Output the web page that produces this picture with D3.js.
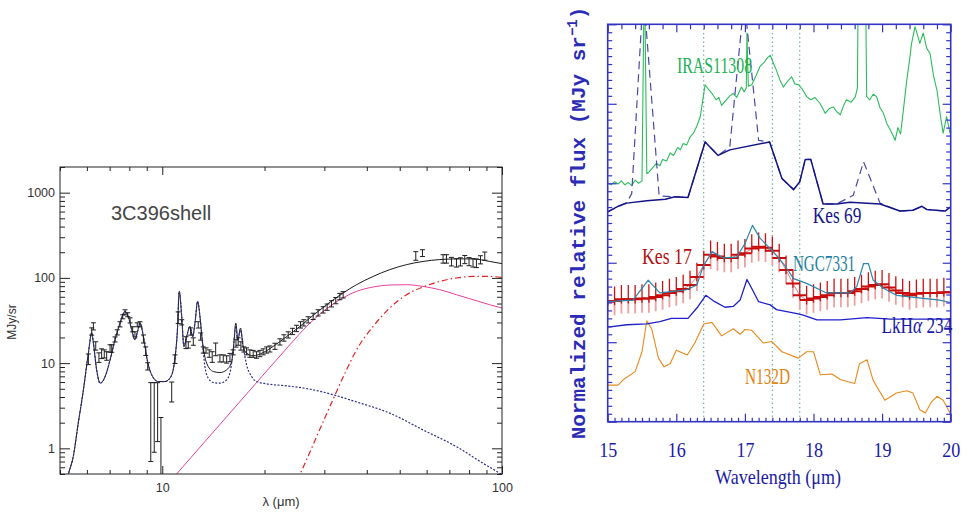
<!DOCTYPE html>
<html>
<head>
<meta charset="utf-8">
<script src="https://cdn.jsdelivr.net/npm/d3@7"></script>
<style>
body { margin: 0; background: #fff; }
</style>
</head>
<body>
<svg id="chart" width="968" height="513"></svg>
<script>
// ---------- left panel: 3C396shell SED (wavelength um, MJy/sr) ----------
var sedWave = [6.06, 6.20, 6.27, 6.37, 6.51, 6.63, 6.75, 6.86, 7.02, 7.10, 7.26, 7.37, 7.51, 7.65, 7.77, 7.91,
	8.04, 8.18, 8.31, 8.44, 8.60, 8.80, 8.94, 9.06, 9.25, 9.47, 9.69, 9.91, 10.66, 10.90, 11.14, 11.41,
	11.74, 11.93, 12.12, 12.34, 12.76, 12.97, 13.20, 13.45, 13.75, 14.03, 14.36, 14.78, 15.12, 15.47,
	15.82, 16.17, 16.48, 16.73, 17.04, 17.39, 17.71, 18.11, 18.52, 18.95, 19.38, 19.82, 20.28, 20.74,
	21.46, 22.20, 22.81, 23.48, 24.18, 24.85, 25.53, 26.11, 26.88, 27.81, 28.76, 29.75, 30.57, 31.50,
	32.42, 33.31, 34.07, 55.75, 58.33, 67.07, 68.63, 71.00, 73.44, 75.45, 77.69, 79.98, 82.17, 84.09,
	86.43, 88.98];
var sedFlux = [11.2, 23.6, 27.1, 16.0, 11.7, 13.0, 12.9, 12.2, 14.9, 14.9, 19.0, 23.0, 28.6, 35.0, 39.5, 37.0,
	31.8, 25.0, 21.8, 28.2, 28.6, 19.3, 13.9, 9.2, 3.3, 3.4, 3.55, 1.2, 4.75, 11.2, 34.5, 30.2,
	17.6, 16.4, 23.6, 18.0, 28.2, 20.6, 14.3, 14.1, 13.0, 11.9, 14.7, 11.4, 11.4, 11.1,
	11.7, 13.4, 17.1, 18.0, 16.0, 14.5, 13.8, 13.0, 12.9, 12.5, 13.0, 13.6, 14.3, 14.7,
	15.8, 17.8, 19.8, 21.5, 23.6, 25.6, 28.2, 29.8, 32.3, 35.5, 39.0, 42.3, 45.5, 49.8,
	54.3, 60.6, 63.5, 182, 196, 168, 168, 156, 151, 155, 165, 156, 151, 149,
	164, 181];
var sedErr = [1.6, 2.3, 2.6, 1.8, 1.5, 1.7, 1.4, 1.4, 1.5, 1.5, 1.3, 1.6, 2.0, 1.9, 2.7, 2.0,
	2.2, 1.7, 1.5, 1.5, 2.0, 2.1, 1.6, 0.9, 2.6, 2.5, 2.35, 1.1, 1.25, 1.3, 5.4, 2.1,
	2.8, 1.4, 2.3, 1.8, 2.4, 2.0, 1.2, 1.0, 1.3, 1.7, 2.5, 1.1, 1.1, 1.1,
	1.3, 0.9, 1.7, 1.8, 1.8, 1.0, 1.3, 1.3, 1.2, 1.1, 1.1, 1.1, 1.2, 1.2,
	1.3, 1.5, 1.7, 1.8, 2.0, 2.2, 2.4, 2.5, 2.7, 3.0, 3.3, 3.6, 3.9, 4.2,
	4.6, 5.2, 5.4, 21, 18, 19, 19, 18, 17, 17, 18, 17, 17, 17,
	18, 20];

// model components [wavelength, flux]
var modelTotal = [[5.2, 0.35], [5.29, 0.49], [5.47, 0.80], [5.66, 1.99], [5.86, 4.86], [6.06, 13.1], [6.20, 22.7],
	[6.27, 17.2], [6.41, 8.34], [6.56, 5.82], [6.79, 6.96], [7.02, 10.9], [7.26, 18.8], [7.51, 29.5],
	[7.77, 40.4], [7.94, 35.3], [8.13, 24.6], [8.31, 18.8], [8.44, 22.7], [8.60, 29.5], [8.80, 20.5],
	[9.03, 10.9], [9.31, 7.29], [9.73, 6.08], [10.18, 6.08], [10.61, 6.96], [10.90, 11.5], [11.07, 22.7],
	[11.22, 69.4], [11.41, 35.3], [11.58, 15.7], [11.80, 20.5], [12.06, 26.9], [12.29, 20.5], [12.48, 29.5],
	[12.71, 52.9], [12.91, 35.3], [13.11, 18.8], [13.51, 10.0], [14.13, 7.97], [14.78, 7.75], [15.47, 8.34],
	[16.0, 10.4], [16.25, 17.2], [16.46, 29.5], [16.70, 18.8], [17.0, 25.8], [17.30, 15.7], [17.71, 13.1],
	[18.52, 12.2], [19.82, 13.3], [21.21, 15.7], [23.22, 20.5], [25.41, 26.9], [27.19, 33.8], [34.07, 66.5],
	[37.31, 83.2], [41.75, 104], [46.73, 125], [52.35, 143], [58.56, 156], [65.57, 164], [73.44, 167],
	[82.17, 167], [91.99, 156], [100, 147]];
var modelPah = [[5.2, 0.35], [5.29, 0.49], [5.47, 0.80], [5.66, 1.99], [5.86, 4.86], [6.06, 13.1], [6.20, 22.7],
	[6.27, 17.2], [6.41, 8.34], [6.56, 5.82], [6.79, 6.96], [7.02, 10.9], [7.26, 18.8], [7.51, 29.5],
	[7.77, 40.4], [7.94, 35.3], [8.13, 24.6], [8.31, 18.8], [8.44, 22.7], [8.60, 29.5], [8.80, 20.5],
	[9.03, 10.9], [9.31, 7.29], [9.73, 6.08], [10.18, 6.08], [10.61, 6.96], [10.90, 11.5], [11.07, 22.7],
	[11.22, 69.4], [11.41, 35.3], [11.58, 15.7], [11.80, 20.5], [12.06, 26.9], [12.29, 20.5], [12.48, 29.5],
	[12.71, 52.9], [12.91, 35.3], [13.11, 18.8], [13.35, 9.12], [13.66, 6.66], [14.13, 5.92], [14.78, 5.82],
	[15.47, 6.37], [15.89, 8.34], [16.17, 14.3], [16.45, 27.0], [16.66, 18.5], [16.98, 24.6], [17.30, 15.7],
	[17.71, 9.55], [18.32, 6.96], [18.95, 6.08], [20.28, 5.71], [23.22, 5.41], [27.19, 4.95], [32.2, 4.2],
	[37.31, 3.5], [46.73, 2.59], [58.56, 1.645], [73.44, 1.047], [87.95, 0.668], [98.45, 0.51], [100, 0.49]];
var modelWarm = [[10.97, 0.49], [18.0, 4.68], [23.74, 16.4], [26.59, 26.9], [29.75, 40.4], [33.31, 55.4],
	[37.31, 69.4], [41.75, 78.2], [46.73, 82.5], [52.35, 83.2], [58.56, 79.4], [65.57, 72.7], [73.44, 63.5],
	[82.17, 55.4], [91.99, 48.4], [100, 44.3]];
var modelCold = [[24.07, 0.3], [25.41, 0.49], [27.19, 0.90], [29.75, 2.05], [32.2, 4.17], [34.86, 8.34],
	[37.31, 14.3], [41.75, 26.9], [46.73, 44.3], [52.35, 63.5], [58.56, 78.2], [65.57, 91], [73.44, 99.7],
	[82.17, 104], [91.99, 104], [100, 101]];

var leftXMajor = [10, 100];
var leftYMajor = [1, 10, 100, 1000];

// ---------- right panel: normalized spectra 15-20 um ----------
var irasSpec = [[15.0, 3.00], [15.05, 2.98], [15.1, 3.02], [15.15, 2.99], [15.2, 3.03], [15.25, 2.98], [15.3, 3.01],
	[15.35, 2.97], [15.4, 3.04], [15.45, 3.00], [15.5, 3.03], [15.535, 5.8], [15.57, 3.12], [15.6, 3.14],
	[15.66, 3.2], [15.71, 3.25], [15.76, 3.22], [15.8, 3.3], [15.86, 3.28], [15.91, 3.38], [15.96, 3.35],
	[16.02, 3.45], [16.06, 3.42], [16.1, 3.50], [16.15, 3.48], [16.2, 3.58], [16.25, 3.63], [16.3, 3.72],
	[16.35, 3.84], [16.42, 4.24], [16.47, 4.18], [16.52, 4.13], [16.58, 4.05], [16.62, 4.08], [16.66, 3.98],
	[16.72, 4.04], [16.78, 4.10], [16.83, 4.13], [16.88, 4.08], [16.95, 4.21], [16.99, 4.15], [17.02, 4.2],
	[17.03, 4.89], [17.05, 4.22], [17.10, 4.24], [17.16, 4.35], [17.22, 4.47], [17.28, 4.52], [17.33, 4.58],
	[17.37, 4.61], [17.42, 4.5], [17.46, 4.42], [17.51, 4.3], [17.56, 4.21], [17.62, 4.28], [17.68, 4.34],
	[17.73, 4.25], [17.78, 4.24], [17.84, 4.18], [17.90, 4.09], [17.96, 4.05], [18.02, 4.08], [18.09, 4.01],
	[18.13, 3.95], [18.17, 3.88], [18.23, 3.94], [18.29, 3.96], [18.34, 3.9], [18.39, 3.86], [18.44, 3.98],
	[18.48, 4.05], [18.55, 4.02], [18.61, 4.09], [18.64, 4.2], [18.655, 5.8], [18.755, 5.8], [18.775, 4.09],
	[18.82, 4.05], [18.87, 4.12], [18.92, 4.09], [18.97, 3.95], [19.02, 3.88], [19.07, 3.75], [19.12, 3.67],
	[19.16, 3.6], [19.19, 3.54], [19.23, 3.7], [19.27, 3.62], [19.31, 3.92], [19.36, 4.30], [19.40, 4.55],
	[19.43, 4.76], [19.48, 4.97], [19.52, 4.85], [19.55, 4.76], [19.60, 4.89], [19.65, 4.7], [19.70, 4.63],
	[19.75, 4.35], [19.80, 4.17], [19.85, 3.85], [19.89, 3.63], [19.94, 3.84], [19.99, 3.63]];
var kes69Spec = [[15.00, 2.64], [15.15, 2.71], [15.28, 2.75], [15.57, 2.78], [15.84, 2.80], [15.98, 2.83],
	[16.17, 2.82], [16.42, 3.52], [16.61, 3.35], [16.78, 3.42], [17.36, 3.52], [17.54, 3.06], [17.71, 2.92],
	[17.80, 3.02], [17.88, 3.30], [17.96, 3.30], [18.14, 2.74], [18.34, 2.74], [18.53, 2.76], [18.97, 2.74],
	[19.26, 2.65], [19.45, 2.66], [19.58, 2.71], [19.65, 2.67], [19.92, 2.65], [19.99, 2.70]];
var kes69Lines = [[15.00, 2.64], [15.28, 2.76], [15.35, 2.87], [15.52, 5.41], [15.75, 2.84], [15.98, 2.83],
	[16.17, 2.82], [16.42, 3.52], [16.61, 3.35], [16.78, 3.46], [16.99, 5.31], [17.20, 3.54], [17.36, 3.52],
	[17.54, 3.06], [17.71, 2.92], [17.80, 3.02], [17.88, 3.30], [17.96, 3.30], [18.14, 2.74], [18.34, 2.74],
	[18.58, 2.85], [18.73, 3.27], [18.97, 2.75], [19.26, 2.65], [19.45, 2.66], [19.58, 2.71], [19.65, 2.67],
	[19.92, 2.65], [19.99, 2.70]];
var kes17Wave = [15.0, 15.1, 15.2, 15.3, 15.4, 15.5, 15.6, 15.7, 15.8, 15.9,
	16.0, 16.1, 16.2, 16.3, 16.4, 16.5, 16.6, 16.7, 16.8, 16.9,
	17.0, 17.1, 17.2, 17.3, 17.4, 17.5, 17.6, 17.7, 17.8, 17.9,
	18.0, 18.1, 18.2, 18.3, 18.4, 18.5, 18.6, 18.7, 18.8, 18.9,
	19.0, 19.1, 19.2, 19.3, 19.4, 19.5, 19.6, 19.7, 19.8, 19.9, 20.0];
var kes17Flux = [1.51, 1.52, 1.54, 1.54, 1.54, 1.55, 1.55, 1.57, 1.59, 1.62,
	1.64, 1.67, 1.72, 1.82, 1.97, 2.10, 2.08, 2.06, 2.06, 2.10,
	2.12, 2.18, 2.20, 2.19, 2.15, 2.06, 1.91, 1.74, 1.59, 1.53,
	1.55, 1.57, 1.59, 1.62, 1.62, 1.62, 1.64, 1.67, 1.70, 1.72,
	1.73, 1.69, 1.65, 1.62, 1.59, 1.61, 1.62, 1.62, 1.62, 1.63, 1.63];
var kes17Err = [0.18, 0.18, 0.18, 0.18, 0.18, 0.18, 0.18, 0.18, 0.18, 0.18,
	0.18, 0.18, 0.18, 0.18, 0.18, 0.18, 0.18, 0.18, 0.18, 0.18,
	0.18, 0.18, 0.18, 0.18, 0.18, 0.18, 0.18, 0.18, 0.18, 0.18,
	0.18, 0.18, 0.18, 0.18, 0.18, 0.18, 0.18, 0.18, 0.18, 0.18,
	0.18, 0.18, 0.18, 0.18, 0.18, 0.18, 0.18, 0.18, 0.18, 0.18, 0.18];
var ngcSpec = [[15.00, 1.51], [15.37, 1.53], [15.59, 1.78], [15.76, 1.62], [15.96, 1.64], [16.15, 1.66],
	[16.30, 1.72], [16.39, 1.95], [16.52, 2.14], [16.69, 2.06], [16.88, 2.07], [17.00, 2.24], [17.11, 2.47],
	[17.22, 2.31], [17.41, 2.14], [17.56, 1.99], [17.71, 1.80], [17.90, 1.74], [18.19, 1.62], [18.53, 1.62],
	[18.63, 1.70], [18.73, 1.99], [18.80, 1.99], [18.87, 1.78], [19.02, 1.68], [19.21, 1.59], [19.50, 1.56],
	[19.84, 1.53], [19.99, 1.50]];
var lkhaSpec = [[15.00, 1.19], [15.28, 1.22], [15.57, 1.23], [15.76, 1.26], [15.93, 1.30], [16.17, 1.30],
	[16.30, 1.43], [16.43, 1.59], [16.56, 1.51], [16.71, 1.44], [16.83, 1.45], [16.93, 1.53], [17.03, 1.79],
	[17.11, 1.66], [17.20, 1.51], [17.37, 1.47], [17.46, 1.41], [17.76, 1.36], [17.85, 1.34], [18.05, 1.28],
	[18.39, 1.28], [18.78, 1.31], [19.12, 1.29], [19.50, 1.29], [19.99, 1.29]];
var n132dSpec = [[15.00, 0.46], [15.15, 0.46], [15.23, 0.53], [15.40, 0.63], [15.50, 0.88], [15.57, 1.27],
	[15.64, 1.17], [15.74, 0.80], [15.82, 0.69], [15.91, 0.73], [16.00, 0.90], [16.16, 0.84], [16.27, 0.99],
	[16.40, 1.23], [16.52, 1.25], [16.66, 1.08], [16.83, 1.17], [16.93, 1.10], [17.00, 1.16], [17.10, 1.15],
	[17.27, 0.99], [17.39, 1.01], [17.54, 0.88], [17.78, 0.80], [17.90, 0.88], [18.00, 0.88], [18.10, 0.59],
	[18.27, 0.60], [18.39, 0.53], [18.60, 0.48], [18.67, 0.73], [18.78, 0.78], [18.87, 0.52], [19.04, 0.27],
	[19.21, 0.36], [19.36, 0.39], [19.45, 0.36], [19.55, 0.15], [19.63, 0.11], [19.72, 0.25], [19.80, 0.32],
	[19.89, 0.27], [19.99, 0.11]];
var lineMarks = [16.4, 17.4, 17.8];
var rightXMajor = [15, 16, 17, 18, 19, 20];

var svg = d3.select("#chart");

function label(g, x, y, txt, size, color, sx, anchor) {
	return g.append("text")
		.attr("transform", "translate(" + x + "," + y + ") scale(" + sx + ",1)")
		.attr("font-size", size)
		.attr("fill", color)
		.attr("text-anchor", anchor || "start")
		.text(txt);
}

//==================== left panel ====================
var L = {x0: 60, x1: 502, y0: 167, y1: 474};
var lx = d3.scaleLog().domain([5, 100]).range([L.x0, L.x1]);
var ly = d3.scaleLog().domain([0.5, 2000]).range([L.y1, L.y0]);
var left = svg.append("g").attr("font-family", "'Liberation Sans', Arial, sans-serif");

svg.append("clipPath").attr("id", "clipL").append("rect")
	.attr("x", L.x0).attr("y", L.y0).attr("width", L.x1 - L.x0).attr("height", L.y1 - L.y0);

var lineL = d3.line().x(d => lx(d[0])).y(d => ly(d[1])).curve(d3.curveMonotoneX);
var plotL = left.append("g").attr("clip-path", "url(#clipL)");

plotL.append("path").datum(modelWarm).attr("d", lineL)
	.attr("fill", "none").attr("stroke", "#e8409c").attr("stroke-width", 1);
plotL.append("path").datum(modelCold).attr("d", lineL)
	.attr("fill", "none").attr("stroke", "#e02424").attr("stroke-width", 1.2)
	.attr("stroke-dasharray", "6,3,1.5,3");
plotL.append("path").datum(modelTotal).attr("d", lineL)
	.attr("fill", "none").attr("stroke", "#1a1a1a").attr("stroke-width", 1);
plotL.append("path").datum(modelPah).attr("d", lineL)
	.attr("fill", "none").attr("stroke", "#2c2c8c").attr("stroke-width", 1.2)
	.attr("stroke-dasharray", "2,1.6");

// error bars
var sed = sedWave.map((w, i) => ({w: w, f: sedFlux[i], e: sedErr[i]}));
var bars = plotL.selectAll("g.ebar").data(sed).enter().append("g").attr("class", "ebar")
	.attr("stroke", "#1e1e1e").attr("stroke-width", 1);
bars.append("line")
	.attr("x1", d => lx(d.w)).attr("x2", d => lx(d.w))
	.attr("y1", d => ly(Math.max(d.f - d.e, 0.3))).attr("y2", d => ly(d.f + d.e));
bars.append("line")
	.attr("x1", d => lx(d.w) - 2.5).attr("x2", d => lx(d.w) + 2.5)
	.attr("y1", d => ly(d.f + d.e)).attr("y2", d => ly(d.f + d.e));
bars.filter(d => d.f - d.e > 0.3).append("line")
	.attr("x1", d => lx(d.w) - 2.5).attr("x2", d => lx(d.w) + 2.5)
	.attr("y1", d => ly(d.f - d.e)).attr("y2", d => ly(d.f - d.e));

// axes
var lMinorX = lx.ticks().filter(t => leftXMajor.indexOf(t) < 0);
var lMinorY = ly.ticks().filter(t => leftYMajor.indexOf(t) < 0);
function leftAxis(fn, scale, vals, size, fmt, tr) {
	var g = left.append("g").attr("transform", tr)
		.call(fn(scale).tickValues(vals).tickSize(size).tickPadding(fmt ? 9 : 0).tickFormat(fmt || ""));
	g.select(".domain").remove();
	g.selectAll("line").attr("stroke", "#222");
	g.selectAll("text").attr("fill", "#333").attr("font-size", 12.5).attr("font-family", "'Liberation Sans', Arial, sans-serif");
	return g;
}
leftAxis(d3.axisBottom, lx, leftXMajor, -8, d => d, "translate(0," + L.y1 + ")");
leftAxis(d3.axisBottom, lx, lMinorX, -4, null, "translate(0," + L.y1 + ")");
leftAxis(d3.axisTop, lx, leftXMajor, -8, null, "translate(0," + L.y0 + ")");
leftAxis(d3.axisTop, lx, lMinorX, -4, null, "translate(0," + L.y0 + ")");
var ya = leftAxis(d3.axisLeft, ly, leftYMajor, -10, d => d, "translate(" + L.x0 + ",0)");
ya.selectAll("text").attr("x", -5);
leftAxis(d3.axisLeft, ly, lMinorY, -5, null, "translate(" + L.x0 + ",0)");
leftAxis(d3.axisRight, ly, leftYMajor, -10, null, "translate(" + L.x1 + ",0)");
leftAxis(d3.axisRight, ly, lMinorY, -5, null, "translate(" + L.x1 + ",0)");

left.append("rect").attr("x", L.x0).attr("y", L.y0)
	.attr("width", L.x1 - L.x0).attr("height", L.y1 - L.y0)
	.attr("fill", "none").attr("stroke", "#222").attr("stroke-width", 1);

left.append("text").attr("x", 111).attr("y", 220).attr("font-size", 20)
	.attr("fill", "#444").text("3C396shell");
left.append("text").attr("transform", "translate(16,322) rotate(-90)")
	.attr("text-anchor", "middle").attr("font-size", 12).attr("fill", "#333").text("MJy/sr");
left.append("text").attr("x", 281).attr("y", 506).attr("text-anchor", "middle")
	.attr("font-size", 13).attr("fill", "#333").text("λ (μm)");

//==================== right panel ====================
var R = {x0: 607.7, x1: 950.7, y0: 24.3, y1: 421.7};
var rx = d3.scaleLinear().domain([15, 20]).range([R.x0, R.x1]);
var ry = d3.scaleLinear().domain([0, 5]).range([R.y1, R.y0]);
var axisBlue = "#3434c4", textBlue = "#1a1aa6";
var right = svg.append("g").attr("font-family", "'Liberation Serif', 'Times New Roman', serif");

svg.append("clipPath").attr("id", "clipR").append("rect")
	.attr("x", R.x0).attr("y", R.y0).attr("width", R.x1 - R.x0).attr("height", R.y1 - R.y0);
var plotR = right.append("g").attr("clip-path", "url(#clipR)");
var lineR = d3.line().x(d => rx(d[0])).y(d => ry(d[1]));

plotR.selectAll("line.mark").data(lineMarks).enter().append("line")
	.attr("x1", d => rx(d)).attr("x2", d => rx(d))
	.attr("y1", R.y0).attr("y2", R.y1)
	.attr("stroke", "#3a9c86").attr("stroke-width", 1).attr("stroke-dasharray", "1.3,3");

function spec(data, color, w, dash) {
	plotR.append("path").datum(data).attr("d", lineR)
		.attr("fill", "none").attr("stroke", color).attr("stroke-width", w)
		.attr("stroke-linejoin", "round")
		.attr("stroke-dasharray", dash || null);
}
spec(irasSpec, "#2cbc5c", 1.1);
spec(kes69Lines, "#4848a8", 1.2, "8,5");
spec(kes69Spec, "#141488", 1.5);
spec(n132dSpec, "#e88a1c", 1.1);
spec(lkhaSpec, "#2020c8", 1.3);

// Kes 17 with error bars
var kes = kes17Wave.map((w, i) => ({w: w, f: kes17Flux[i], e: kes17Err[i]}));
plotR.append("path").datum(kes.map(d => [d.w, d.f])).attr("d", lineR)
	.attr("fill", "none").attr("stroke", "#e07a7a").attr("stroke-width", 1);
plotR.selectAll("line.kpink").data(kes).enter().append("line")
	.attr("x1", d => rx(d.w)).attr("x2", d => rx(d.w))
	.attr("y1", d => ry(d.f - d.e)).attr("y2", d => ry(d.f))
	.attr("stroke", "#eca0a0").attr("stroke-width", 1.8);
plotR.selectAll("line.kred").data(kes).enter().append("line")
	.attr("x1", d => rx(d.w)).attr("x2", d => rx(d.w))
	.attr("y1", d => ry(d.f - 0.3 * d.e)).attr("y2", d => ry(d.f + d.e))
	.attr("stroke", "#cc1212").attr("stroke-width", 1.3);
plotR.selectAll("line.kh").data(kes).enter().append("line")
	.attr("x1", d => rx(d.w - 0.1)).attr("x2", d => rx(d.w + 0.1))
	.attr("y1", d => ry(d.f)).attr("y2", d => ry(d.f))
	.attr("stroke", "#c80c0c").attr("stroke-width", 2);
spec(ngcSpec, "#2a88ac", 1.2);

// axes
function rightAxis(fn, scale, vals, size, fmt, tr) {
	var g = right.append("g").attr("transform", tr)
		.call(fn(scale).tickValues(vals).tickSize(size).tickPadding(fmt ? 20 : 0).tickFormat(fmt || ""));
	g.select(".domain").remove();
	g.selectAll("line").attr("stroke", axisBlue).attr("stroke-width", 1.2);
	g.selectAll("text").attr("fill", textBlue).attr("font-size", 22)
		.attr("font-family", "'Liberation Serif', 'Times New Roman', serif")
		.attr("transform", "scale(0.82,1)");
	return g;
}
var minorX = d3.range(150, 201).map(t => t / 10).filter(t => rightXMajor.indexOf(t) < 0);
var minorXTop = d3.range(75, 101).map(t => t / 5).filter(t => rightXMajor.indexOf(t) < 0);
var minorY = d3.range(0, 51).map(t => t / 10).filter(t => t % 1 !== 0);
var majorY = [0, 1, 2, 3, 4, 5];
rightAxis(d3.axisBottom, rx, rightXMajor, -8, d => d, "translate(0," + R.y1 + ")");
rightAxis(d3.axisBottom, rx, minorX, -4, null, "translate(0," + R.y1 + ")");
rightAxis(d3.axisTop, rx, rightXMajor, -8, null, "translate(0," + R.y0 + ")");
rightAxis(d3.axisTop, rx, minorXTop, -5, null, "translate(0," + R.y0 + ")");
rightAxis(d3.axisLeft, ry, majorY, -9, null, "translate(" + R.x0 + ",0)");
rightAxis(d3.axisLeft, ry, minorY, -4.5, null, "translate(" + R.x0 + ",0)");
rightAxis(d3.axisRight, ry, majorY, -8, null, "translate(" + R.x1 + ",0)");
rightAxis(d3.axisRight, ry, minorY, -4.5, null, "translate(" + R.x1 + ",0)");

right.append("rect").attr("x", R.x0).attr("y", R.y0)
	.attr("width", R.x1 - R.x0).attr("height", R.y1 - R.y0)
	.attr("fill", "none").attr("stroke", axisBlue).attr("stroke-width", 1.6);

// series labels
label(right, rx(16.01), ry(4.39), "IRAS11308", 24, "#22b055", 0.66);
label(right, rx(17.99), ry(2.50), "Kes 69", 24, "#14148a", 0.72);
label(right, rx(15.50), ry(1.99), "Kes 17", 24, "#b01010", 0.74);
label(right, rx(17.70), ry(1.89), "NGC7331", 24, "#1e7ea0", 0.63);
var lk = label(right, rx(18.99), ry(1.11), "LkH", 24, "#1a1aa6", 0.72);
lk.append("tspan").attr("font-style", "italic").text("α");
lk.append("tspan").text(" 234");
label(right, rx(17.00), ry(0.48), "N132D", 24, "#e08412", 0.64);

label(right, 778, 484, "Wavelength (μm)", 22, textBlue, 0.82, "middle");
var yl = right.append("text")
	.attr("transform", "translate(585,223) rotate(-90)")
	.attr("text-anchor", "middle")
	.attr("font-family", "'Liberation Mono', 'Courier New', monospace")
	.attr("font-size", 21).attr("font-weight", "bold").attr("fill", "#2b2bb5")
	.text("Normalized relative flux (MJy sr");
yl.append("tspan").attr("dy", -8).attr("font-size", 14).text("−1");
yl.append("tspan").attr("dy", 8).text(")");
</script>
</body>
</html>
